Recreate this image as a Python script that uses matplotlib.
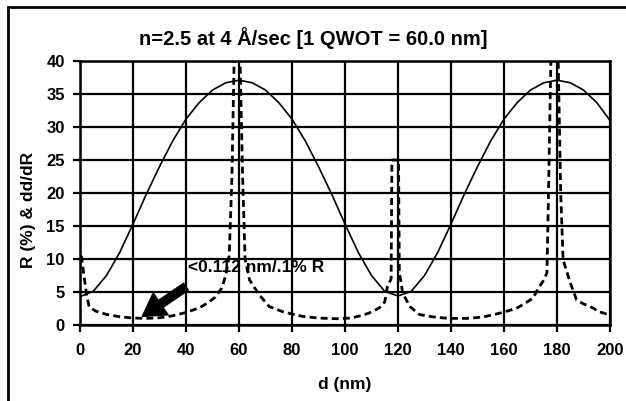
import matplotlib.pyplot as plt
import matplotlib.patches as patches

plt.rcParams['font.family'] = ['Liberation Sans', 'DejaVu Sans']
plt.rcParams['font.weight'] = 'bold'

# reflectance curve R (%) vs thickness
d_r = list(range(0, 205, 5))
r_pct = [4.3, 5.1, 7.5, 11.0, 15.3, 19.8, 24.0, 27.9, 31.2, 33.7, 35.6, 36.7, 37.1,
         36.7, 35.6, 33.7, 31.2, 27.9, 24.0, 19.8, 15.3, 11.0, 7.5, 5.1, 4.4,
         5.1, 7.5, 11.0, 15.3, 19.8, 24.0, 27.9, 31.2, 33.7, 35.6, 36.7, 37.1,
         36.7, 35.6, 33.7, 31.0]

# sensitivity curve dd/dR
d_s = [0.5, 1.5, 2.5, 3.5, 6, 10, 15, 20, 25, 30, 35, 40, 45, 48, 51, 53.5, 55, 56.3,
       57.3, 58.4, 60.1, 61.4, 62.3, 64, 67.6, 71.4, 76.6, 84, 90, 97, 102, 106, 109,
       113, 115, 116, 117.4, 117.7, 120.2, 120.5, 121.8, 124.5, 128, 132, 136, 140,
       146, 152, 158.5, 162, 165, 168, 171, 173, 175, 176.2, 176.8, 177.9, 180.2,
       181.4, 182.3, 185, 187.4, 190, 192.5, 196, 200]
s_val = [10.5, 7.5, 4.5, 2.7, 2.1, 1.6, 1.25, 1.05, 1.0, 1.1, 1.4, 1.9, 2.6, 3.3, 4.2,
         5.6, 7.5, 10.5, 22, 45, 45, 22, 10, 6.8, 4.6, 2.8, 2.0, 1.3, 1.05, 0.95, 1.05,
         1.4, 1.8, 2.6, 3.5, 5.8, 7, 25, 25, 8, 4.8, 2.8, 1.6, 1.3, 1.1, 1.0, 1.0, 1.2,
         1.8, 2.2, 2.6, 3.3, 4.1, 5.6, 6.8, 7.9, 20, 45, 45, 20, 9.9, 6.4, 3.8, 3.2,
         2.8, 2.0, 1.5]

fig = plt.figure(figsize=(6.26, 4.01), dpi=100)
ax = fig.add_axes([80 / 626, 76 / 401, 530 / 626, 264 / 401])

ax.plot(d_r, r_pct, color='black', lw=1.2)
ax.plot(d_s, s_val, color='black', lw=2, linestyle=(0, (2.5, 1.5)))

ax.set_xlim(0, 200)
ax.set_ylim(0, 40)
ax.set_xticks(range(0, 201, 20))
ax.set_yticks(range(0, 41, 5))
ax.grid(True, color='black', lw=1.6)
for s in ax.spines.values():
    s.set_linewidth(1.8)
ax.tick_params(axis='both', direction='out', length=5, width=1.6, labelsize=12)
ax.tick_params(axis='x', pad=8)
ax.tick_params(axis='y', pad=6)

ax.annotate('', xy=(23.5, 1.3), xytext=(40, 5.8),
            arrowprops=dict(facecolor='black', edgecolor='black', width=6,
                            headwidth=19, headlength=16))
ax.text(40.8, 8.7, '<0.112 nm/.1% R', fontsize=12.5, fontweight='bold', va='center', ha='left')

fig.text(0.5, 1 - 38 / 401, 'n=2.5 at 4 Å/sec [1 QWOT = 60.0 nm]', ha='center', va='center',
         fontsize=14.5, fontweight='bold')
fig.text(345 / 626, 1 - 385 / 401, 'd (nm)', ha='center', va='center', fontsize=12.5, fontweight='bold')
fig.text(28 / 626, 1 - 210 / 401, 'R (%) & dd/dR', ha='center', va='center', rotation=90,
         fontsize=12.5, fontweight='bold')

fig.patches.append(patches.Rectangle((8 / 626, -0.1), 1.2, 1 - 7 / 401 + 0.1,
                                     transform=fig.transFigure, fill=False, lw=2, color='black'))

fig.savefig('out.png', dpi=100)
